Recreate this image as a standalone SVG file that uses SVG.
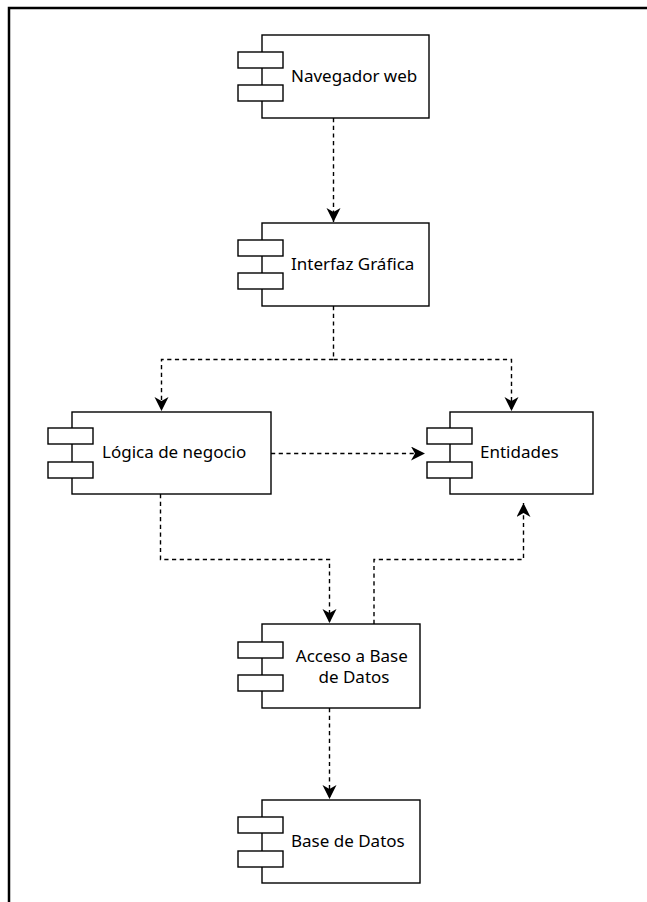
<svg xmlns="http://www.w3.org/2000/svg" width="647" height="902" viewBox="0 0 647 902">
  <style>
    .box { fill: #ffffff; stroke: #000000; stroke-width: 1.4; }
    .port { fill: #ffffff; stroke: #000000; stroke-width: 1.4; }
    .label { font-family: "Noto Sans", "Open Sans", "DejaVu Sans", sans-serif; font-size: 17px; fill: #000000; }
    .dep { fill: none; stroke: #000000; stroke-width: 1.4; stroke-dasharray: 4.2 3.5; marker-end: url(#arrow); }
    .frame { fill: none; stroke: #000000; stroke-width: 2.5; }
  </style>
  <defs>
    <marker id="arrow" markerUnits="userSpaceOnUse" markerWidth="16" markerHeight="16" refX="14" refY="7" orient="auto">
      <path d="M14,7 L0,0 L4,7 L0,14 Z" fill="#000000"/>
    </marker>
  </defs>

  <rect width="647" height="902" fill="#ffffff"/>
  <path class="frame" d="M9,902 V8 H647"/>

  <g id="connectors">
    <path class="dep" d="M333.5,118 V222"/>
    <path class="dep" d="M333.5,306 V359.5 H161.5 V411"/>
    <path class="dep" d="M333.5,359.5 H511.5 V411"/>
    <path class="dep" d="M271,453.5 H425"/>
    <path class="dep" d="M160.5,494 V559.5 H329.5 V623"/>
    <path class="dep" d="M374,624 V559.5 H523.5 V503"/>
    <path class="dep" d="M329.5,708 V799"/>
  </g>

  <g id="navegador-web">
    <rect class="box" x="262" y="35" width="167" height="83"/>
    <rect class="port" x="238" y="52" width="45" height="16"/>
    <rect class="port" x="238" y="85" width="45" height="16"/>
    <text class="label" x="291" y="82">Navegador web</text>
  </g>

  <g id="interfaz-grafica">
    <rect class="box" x="262" y="223" width="167" height="83"/>
    <rect class="port" x="238" y="240" width="45" height="16"/>
    <rect class="port" x="238" y="273" width="45" height="16"/>
    <text class="label" x="291" y="270">Interfaz Gráfica</text>
  </g>

  <g id="logica-negocio">
    <rect class="box" x="72" y="412" width="199" height="82"/>
    <rect class="port" x="48" y="428" width="45" height="16"/>
    <rect class="port" x="48" y="462" width="45" height="16"/>
    <text class="label" x="102" y="458">Lógica de negocio</text>
  </g>

  <g id="entidades">
    <rect class="box" x="450" y="412" width="143" height="82"/>
    <rect class="port" x="427" y="428" width="45" height="16"/>
    <rect class="port" x="427" y="462" width="45" height="16"/>
    <text class="label" x="480" y="458">Entidades</text>
  </g>

  <g id="acceso-base-datos">
    <rect class="box" x="262" y="624" width="158" height="84"/>
    <rect class="port" x="238" y="642" width="45" height="16"/>
    <rect class="port" x="238" y="675" width="45" height="16"/>
    <text class="label" text-anchor="middle">
      <tspan x="354" y="662">Acceso a Base</tspan>
      <tspan x="354" y="683">de Datos</tspan>
    </text>
  </g>

  <g id="base-datos">
    <rect class="box" x="262" y="800" width="158" height="83"/>
    <rect class="port" x="238" y="817" width="45" height="16"/>
    <rect class="port" x="238" y="851" width="45" height="16"/>
    <text class="label" x="291" y="847">Base de Datos</text>
  </g>
</svg>
